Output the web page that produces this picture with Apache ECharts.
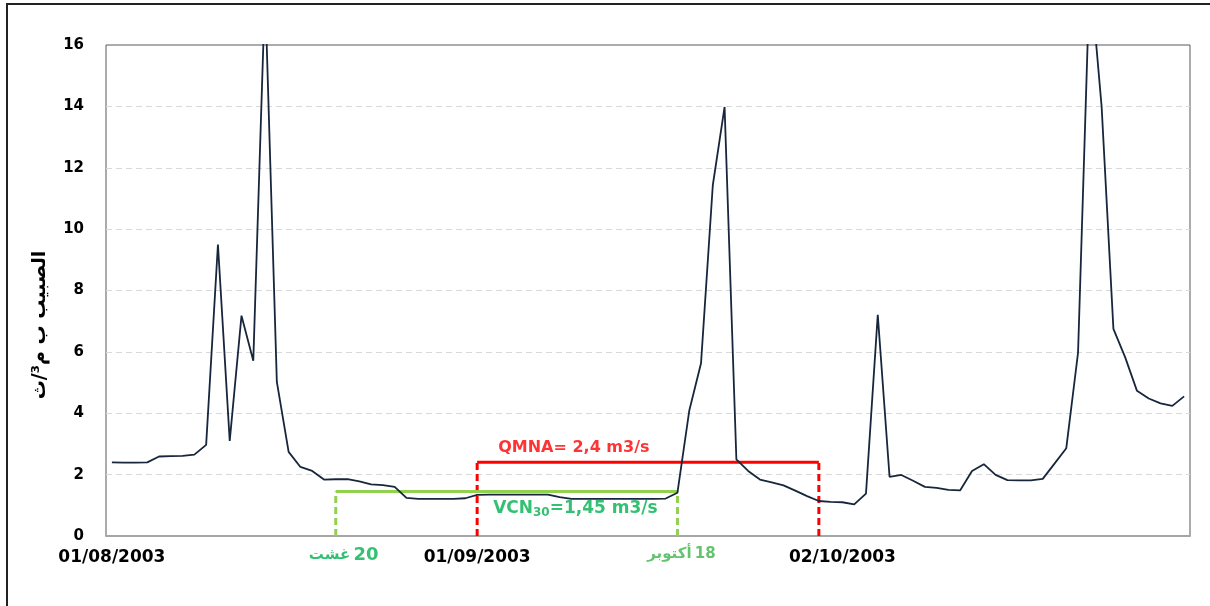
<!DOCTYPE html>
<html>
<head>
<meta charset="utf-8">
<script src="https://cdn.jsdelivr.net/npm/echarts@6/dist/echarts.min.js"></script>
<style>
html, body { margin: 0; padding: 0; background: #fff; }
#chart { width: 1210px; height: 606px; }
</style>
</head>
<body>
<div id="chart"></div>
<script>
// الصبيب اليومي (م3/ث) من 01/08/2003 إلى 31/10/2003
const firstDay = Date.UTC(2003, 7, 1);
const dayCount = 92;
const flow = [
    2.4, 2.39, 2.39, 2.4, 2.59, 2.6, 2.61, 2.65, 2.97, 9.5,
    3.1, 7.18, 5.71, 17.8, 5.02, 2.74, 2.25, 2.12, 1.84, 1.85,
    1.85, 1.78, 1.68, 1.66, 1.6, 1.24, 1.21, 1.21, 1.21, 1.21,
    1.23, 1.34, 1.35, 1.35, 1.35, 1.35, 1.35, 1.35, 1.27, 1.21,
    1.21, 1.21, 1.21, 1.21, 1.21, 1.21, 1.21, 1.22, 1.41, 4.08,
    5.63, 11.43, 13.98, 2.5, 2.12, 1.84, 1.75, 1.65, 1.48, 1.3,
    1.14, 1.11, 1.1, 1.03, 1.38, 7.21, 1.93, 1.99, 1.8, 1.6,
    1.57, 1.5, 1.49, 2.12, 2.34, 1.99, 1.82, 1.81, 1.81, 1.86,
    2.36, 2.86, 5.98, 18.4, 13.99, 6.75, 5.82, 4.73, 4.48, 4.32,
    4.24, 4.55
];

// QMNA و VCN30
const qmnaValue = 2.4;
const qmnaDays = ['01/09/2003', '30/09/2003'];
const vcnValue = 1.45;
const vcnDays = ['20/08/2003', '18/09/2003'];

const yMin = 0, yMax = 16, yStep = 2;

// تواريخ المحور الأفقي
const dates = [];
for (let i = 0; i < dayCount; i++) {
    const d = new Date(firstDay + i * 86400000);
    const dd = String(d.getUTCDate()).padStart(2, '0');
    const mm = String(d.getUTCMonth() + 1).padStart(2, '0');
    dates.push(dd + '/' + mm + '/' + d.getUTCFullYear());
}

const qs = dates.indexOf(qmnaDays[0]), qe = dates.indexOf(qmnaDays[1]);
const vs = dates.indexOf(vcnDays[0]), ve = dates.indexOf(vcnDays[1]);

const FONT = '"DejaVu Sans", Verdana, sans-serif';
const RED = '#ff0000';
const GREEN = '#92d050';
const TEXT_GREEN = '#00b050';

function seg(points, color, dashed, z) {
    return {
        type: 'line',
        data: points,
        symbol: 'none',
        silent: true,
        z: z || 2,
        lineStyle: { color: color, width: 3, type: dashed ? [7, 4] : 'solid' }
    };
}

const chart = echarts.init(document.getElementById('chart'));

let option = {
    animation: false,
    backgroundColor: '#fff',
    grid: {
        left: 106, right: 20, top: 45, bottom: 70,
        show: true, borderColor: '#595959', borderWidth: 1
    },
    xAxis: {
        type: 'category',
        data: dates,
        boundaryGap: true,
        axisLine: { lineStyle: { color: '#a6a6a6', width: 2 } },
        axisTick: { show: false },
        axisLabel: {
            interval: 30,
            margin: 13,
            color: '#000',
            fontFamily: FONT,
            fontWeight: 'bold',
            fontSize: 17
        },
        splitLine: { show: false }
    },
    yAxis: {
        type: 'value',
        min: yMin, max: yMax, interval: yStep,
        axisLine: { show: false },
        axisTick: { show: false },
        axisLabel: {
            margin: 22,
            color: '#000',
            fontFamily: FONT,
            fontWeight: 'bold',
            fontSize: 15
        },
        splitLine: {
            showMinLine: false,
            showMaxLine: false,
            lineStyle: { color: '#d9d9d9', type: [6, 4] }
        }
    },
    graphic: [
        {
            type: 'rect',
            shape: { x: 7, y: 4, width: 1300, height: 700 },
            style: { fill: 'none', stroke: '#222', lineWidth: 2 },
            silent: true
        },
        {
            type: 'text',
            x: 40, y: 325,
            rotation: Math.PI / 2,
            style: {
                text: 'الصبيب ب م³/ث',
                align: 'center',
                verticalAlign: 'middle',
                font: 'bold 19px ' + FONT,
                fill: '#000'
            }
        }
    ],
    series: [
        seg([[qs, 0], [qs, qmnaValue]], RED, true),
        seg([[qe, 0], [qe, qmnaValue]], RED, true),
        seg([[qs, qmnaValue], [qe, qmnaValue]], RED, false),
        seg([[vs, 0], [vs, vcnValue]], GREEN, true),
        seg([[ve, 0], [ve, vcnValue]], GREEN, true),
        seg([[vs, vcnValue], [ve, vcnValue]], GREEN, false),
        {
            name: 'الصبيب',
            type: 'line',
            data: flow,
            symbol: 'none',
            z: 5,
            lineStyle: { color: '#17263c', width: 1.8 }
        },
        {
            type: 'scatter',
            symbolSize: 0,
            silent: true,
            z: 6,
            data: [
                {
                    value: [qs, qmnaValue],
                    label: {
                        show: true, position: 'inside', align: 'left', verticalAlign: 'middle',
                        offset: [21, -15],
                        formatter: 'QMNA= 2,4 m3/s',
                        color: RED, fontFamily: FONT, fontWeight: 'bold', fontSize: 16
                    }
                },
                {
                    value: [qs, vcnValue],
                    label: {
                        show: true, position: 'inside', align: 'left', verticalAlign: 'middle',
                        offset: [16, 17],
                        formatter: '{m|VCN}{s|30}{m|=1,45 m3/s}',
                        rich: {
                            m: { color: TEXT_GREEN, fontFamily: FONT, fontWeight: 'bold', fontSize: 17, lineHeight: 20 },
                            s: { color: TEXT_GREEN, fontFamily: FONT, fontWeight: 'bold', fontSize: 12, lineHeight: 14, verticalAlign: 'bottom' }
                        }
                    }
                },
                {
                    value: [vs, 0],
                    label: {
                        show: true, position: 'inside', align: 'center', verticalAlign: 'middle',
                        offset: [8, 19],
                        formatter: '{t|غشت} {n|20}',
                        rich: {
                            t: { color: TEXT_GREEN, fontFamily: FONT, fontWeight: 'bold', fontSize: 15 },
                            n: { color: TEXT_GREEN, fontFamily: FONT, fontWeight: 'bold', fontSize: 18 }
                        }
                    }
                },
                {
                    value: [ve, 0],
                    label: {
                        show: true, position: 'inside', align: 'center', verticalAlign: 'middle',
                        offset: [4, 18],
                        formatter: '{t|أكتوبر} {n|18}',
                        rich: {
                            t: { color: '#3cb44a', fontFamily: FONT, fontWeight: 'bold', fontSize: 15 },
                            n: { color: '#3cb44a', fontFamily: FONT, fontWeight: 'bold', fontSize: 15 }
                        }
                    }
                }
            ]
        }
    ]
};

chart.setOption(option);
</script>
</body>
</html>
